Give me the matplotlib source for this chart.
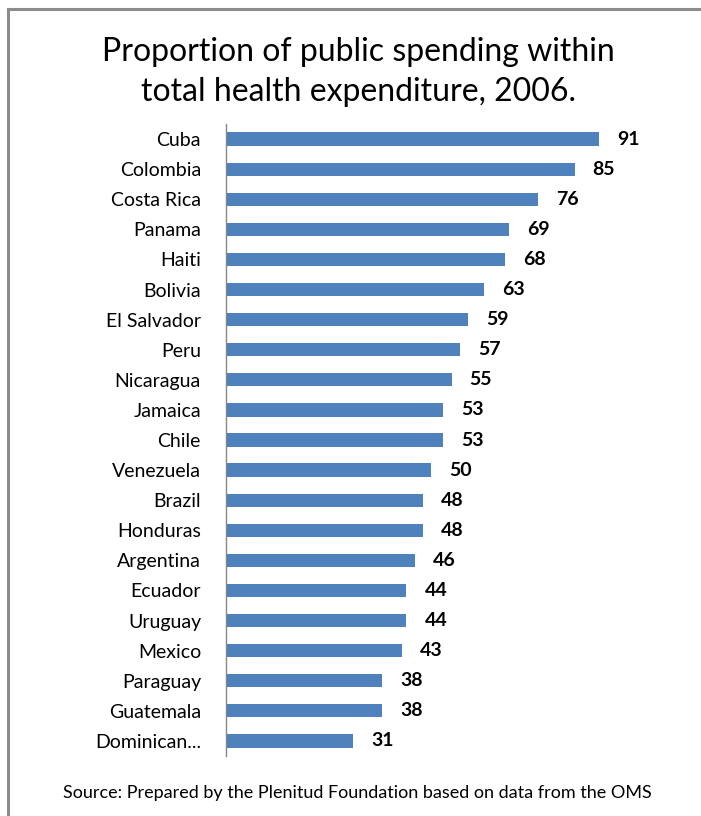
import numpy as np
import matplotlib
matplotlib.use("Agg")
import matplotlib.pyplot as plt

plt.rcParams['font.family'] = ['Lato', 'DejaVu Sans']

# data
countries = ["Cuba", "Colombia", "Costa Rica", "Panama", "Haiti", "Bolivia",
             "El Salvador", "Peru", "Nicaragua", "Jamaica", "Chile", "Venezuela",
             "Brazil", "Honduras", "Argentina", "Ecuador", "Uruguay", "Mexico",
             "Paraguay", "Guatemala", "Dominican..."]
shares = [91, 85, 76, 69, 68, 63, 59, 57, 55, 53, 53, 50, 48, 48, 46, 44, 44, 43, 38, 38, 31]

title = "Proportion of public spending within\ntotal health expenditure, 2006."
source = "Source: Prepared by the Plenitud Foundation based on data from the OMS"

fig = plt.figure(figsize=(7.01, 8.16), dpi=100)

# grey frame (top and left edges visible)
fig.add_artist(plt.Line2D([8/701, 1.0], [1 - 9/816, 1 - 9/816], color='#8c8c8c', lw=2.2,
                          transform=fig.transFigure))
fig.add_artist(plt.Line2D([8/701, 8/701], [1 - 9/816, 0.0], color='#8c8c8c', lw=2.2,
                          transform=fig.transFigure))

ax = fig.add_axes([226/701, 1 - 756/816, (636 - 226)/701, (756 - 124)/816])
y = np.arange(len(countries))
ax.barh(y, shares, height=0.44, color='#4F81BD')
ax.set_xlim(0, 100)
ax.set_ylim(len(countries) - 0.5, -0.5)

for yi, v in zip(y, shares):
    ax.annotate(str(v), (v, yi), xytext=(13, 0), textcoords='offset points',
                ha='left', va='center', fontsize=14, fontweight='bold', color='black')

ax.set_yticks(y)
ax.set_yticklabels(countries, fontsize=14)
ax.tick_params(axis='y', length=0, pad=18)
ax.set_xticks([])
for s in ['top', 'right', 'bottom']:
    ax.spines[s].set_visible(False)
ax.spines['left'].set_color('#868686')
ax.spines['left'].set_linewidth(1.0)

fig.text(358/701, 1 - 72/816, title, ha='center', va='center', fontsize=23,
         linespacing=1.45)
fig.text(357/701, 1 - 793/816, source, ha='center', va='center', fontsize=13)

fig.savefig("out.png", dpi=100)
